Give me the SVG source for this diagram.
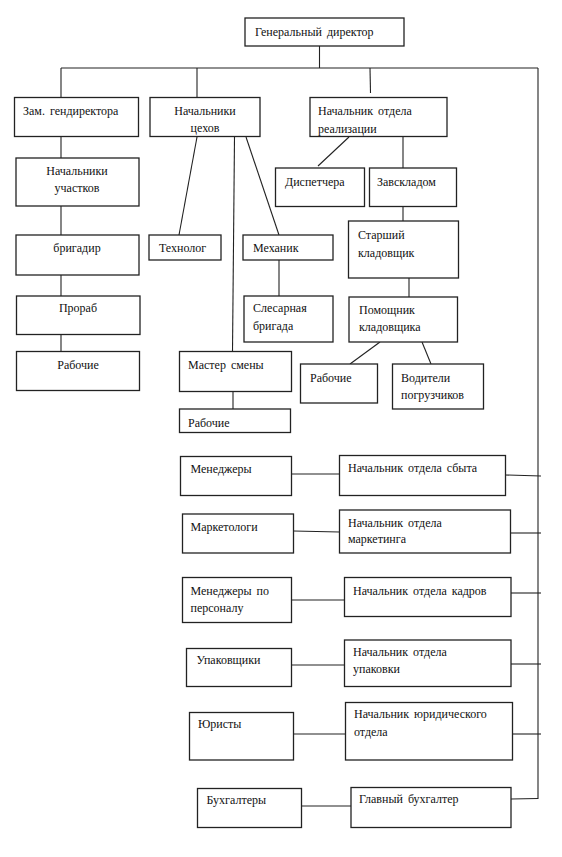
<svg xmlns="http://www.w3.org/2000/svg" width="562" height="857" viewBox="0 0 562 857">
<style>
.b{fill:#fff;stroke:#222;stroke-width:1.3}
.t{font-family:"Liberation Serif","Times New Roman",serif;font-size:12px;fill:#111;word-spacing:2px}
.m{text-anchor:middle}
.c line{stroke:#222;stroke-width:1.1}
</style>
<rect width="562" height="857" fill="#fff"/>
<g class="c" id="connectors">
<line x1="319.5" y1="46" x2="319.5" y2="68"/>
<line x1="61" y1="68" x2="538" y2="68"/>
<line x1="61" y1="68" x2="61" y2="97.5"/>
<line x1="197" y1="68" x2="197" y2="97.5"/>
<line x1="370" y1="68" x2="370.5" y2="93"/>
<line x1="538" y1="68" x2="538" y2="799"/>
<line x1="61" y1="136.5" x2="61" y2="158"/>
<line x1="61" y1="206" x2="61" y2="235"/>
<line x1="61" y1="275" x2="61" y2="296"/>
<line x1="61" y1="334.5" x2="61" y2="351.5"/>
<line x1="197" y1="137" x2="179" y2="235"/>
<line x1="234.5" y1="137" x2="232.5" y2="351.5"/>
<line x1="246" y1="137" x2="279" y2="235"/>
<line x1="279" y1="260" x2="279" y2="296"/>
<line x1="233" y1="391.5" x2="233" y2="409"/>
<line x1="349" y1="137" x2="318" y2="166"/>
<line x1="403" y1="137" x2="403" y2="168"/>
<line x1="403" y1="206.5" x2="403" y2="221"/>
<line x1="409" y1="278" x2="409" y2="297"/>
<line x1="380" y1="342" x2="350" y2="364"/>
<line x1="422" y1="342" x2="431" y2="364"/>
<line x1="291.5" y1="474" x2="339.5" y2="474"/>
<line x1="505.5" y1="475" x2="541" y2="476"/>
<line x1="293.5" y1="531" x2="339.5" y2="532"/>
<line x1="510.5" y1="533" x2="541" y2="533"/>
<line x1="291.5" y1="600" x2="346" y2="600"/>
<line x1="511" y1="593" x2="541" y2="593"/>
<line x1="291.5" y1="665" x2="344.5" y2="665"/>
<line x1="511" y1="664" x2="541" y2="664"/>
<line x1="293.5" y1="734" x2="345.5" y2="734"/>
<line x1="512.5" y1="734" x2="541" y2="734"/>
<line x1="301.5" y1="806" x2="351" y2="806"/>
<line x1="511" y1="799" x2="538" y2="798.5"/>
</g>
<g id="gd"><rect class="b" x="245" y="18" width="159" height="28"/><text class="t" x="255" y="36">Генеральный директор</text></g>
<g id="zam"><rect class="b" x="14.5" y="97.5" width="124" height="39"/><text class="t" x="23" y="115">Зам. гендиректора</text></g>
<g id="nach_cehov"><rect class="b" x="150" y="97.5" width="110" height="39"/><text class="t m" x="205" y="115">Начальники</text><text class="t m" x="205" y="132">цехов</text></g>
<g id="nach_real"><rect class="b" x="310" y="97.5" width="137" height="39"/><text class="t" x="318" y="115">Начальник отдела</text><text class="t" x="318" y="133">реализации</text></g>
<g id="nach_uch"><rect class="b" x="16" y="158" width="123" height="48"/><text class="t m" x="77" y="175">Начальники</text><text class="t m" x="77" y="192">участков</text></g>
<g id="brigadir"><rect class="b" x="16" y="235" width="123" height="40"/><text class="t m" x="77" y="252">бригадир</text></g>
<g id="tehnolog"><rect class="b" x="149" y="235" width="72" height="25"/><text class="t" x="159" y="252">Технолог</text></g>
<g id="mehanik"><rect class="b" x="243" y="235" width="90" height="25"/><text class="t" x="253" y="252">Механик</text></g>
<g id="dispetchera"><rect class="b" x="275.5" y="168" width="89" height="38.5"/><text class="t" x="285" y="186">Диспетчера</text></g>
<g id="zavskladom"><rect class="b" x="369.5" y="168" width="87" height="38.5"/><text class="t" x="377" y="186">Завскладом</text></g>
<g id="starshiy"><rect class="b" x="348.5" y="221" width="110" height="57"/><text class="t" x="358" y="239">Старший</text><text class="t" x="358" y="257">кладовщик</text></g>
<g id="prorab"><rect class="b" x="16.5" y="296" width="123.5" height="38.5"/><text class="t m" x="78" y="312">Прораб</text></g>
<g id="rabochie1"><rect class="b" x="16.5" y="351.5" width="123" height="39"/><text class="t m" x="78" y="369">Рабочие</text></g>
<g id="slesar"><rect class="b" x="244" y="296" width="89" height="46"/><text class="t" x="253" y="312">Слесарная</text><text class="t" x="253" y="330">бригада</text></g>
<g id="pomoshnik"><rect class="b" x="349" y="297" width="108.5" height="45"/><text class="t" x="359" y="314">Помощник</text><text class="t" x="359" y="331">кладовщика</text></g>
<g id="master"><rect class="b" x="179.5" y="351.5" width="112" height="40"/><text class="t" x="188" y="369">Мастер смены</text></g>
<g id="rabochie2"><rect class="b" x="179.5" y="409" width="111" height="23.5"/><text class="t" x="188" y="427">Рабочие</text></g>
<g id="rabochie3"><rect class="b" x="300.5" y="364" width="77" height="39"/><text class="t" x="310" y="382">Рабочие</text></g>
<g id="voditeli"><rect class="b" x="392.5" y="364" width="91" height="45"/><text class="t" x="401" y="382">Водители</text><text class="t" x="401" y="399">погрузчиков</text></g>
<g id="menedzhery"><rect class="b" x="180.5" y="456.5" width="111" height="39"/><text class="t" x="190.5" y="473">Менеджеры</text></g>
<g id="sbyt"><rect class="b" x="339.5" y="455.5" width="166" height="40"/><text class="t" x="348" y="472">Начальник отдела сбыта</text></g>
<g id="marketologi"><rect class="b" x="182.5" y="514" width="111" height="39"/><text class="t" x="190.5" y="531">Маркетологи</text></g>
<g id="marketing"><rect class="b" x="339.5" y="510" width="171" height="43"/><text class="t" x="348" y="527">Начальник отдела</text><text class="t" x="348" y="543">маркетинга</text></g>
<g id="men_pers"><rect class="b" x="182.5" y="577.5" width="109" height="45"/><text class="t" x="190.5" y="595">Менеджеры по</text><text class="t" x="190.5" y="612">персоналу</text></g>
<g id="kadry"><rect class="b" x="344.5" y="577.5" width="166.5" height="39"/><text class="t" x="353" y="595">Начальник отдела кадров</text></g>
<g id="upakovshiki"><rect class="b" x="186.5" y="648.5" width="105" height="38"/><text class="t" x="196.5" y="664">Упаковщики</text></g>
<g id="upakovka"><rect class="b" x="344.5" y="640" width="166.5" height="46.5"/><text class="t" x="353" y="656">Начальник отдела</text><text class="t" x="353" y="673">упаковки</text></g>
<g id="yuristy"><rect class="b" x="189.5" y="712.5" width="104" height="47.5"/><text class="t" x="198" y="728">Юристы</text></g>
<g id="yurid"><rect class="b" x="345.5" y="702.5" width="167" height="57.5"/><text class="t" x="354" y="718">Начальник юридического</text><text class="t" x="354" y="736">отдела</text></g>
<g id="buhgaltery"><rect class="b" x="197.5" y="788.5" width="104" height="39"/><text class="t" x="206.5" y="804">Бухгалтеры</text></g>
<g id="glavbuh"><rect class="b" x="351" y="787.5" width="160" height="40"/><text class="t" x="359" y="803">Главный бухгалтер</text></g>
</svg>
